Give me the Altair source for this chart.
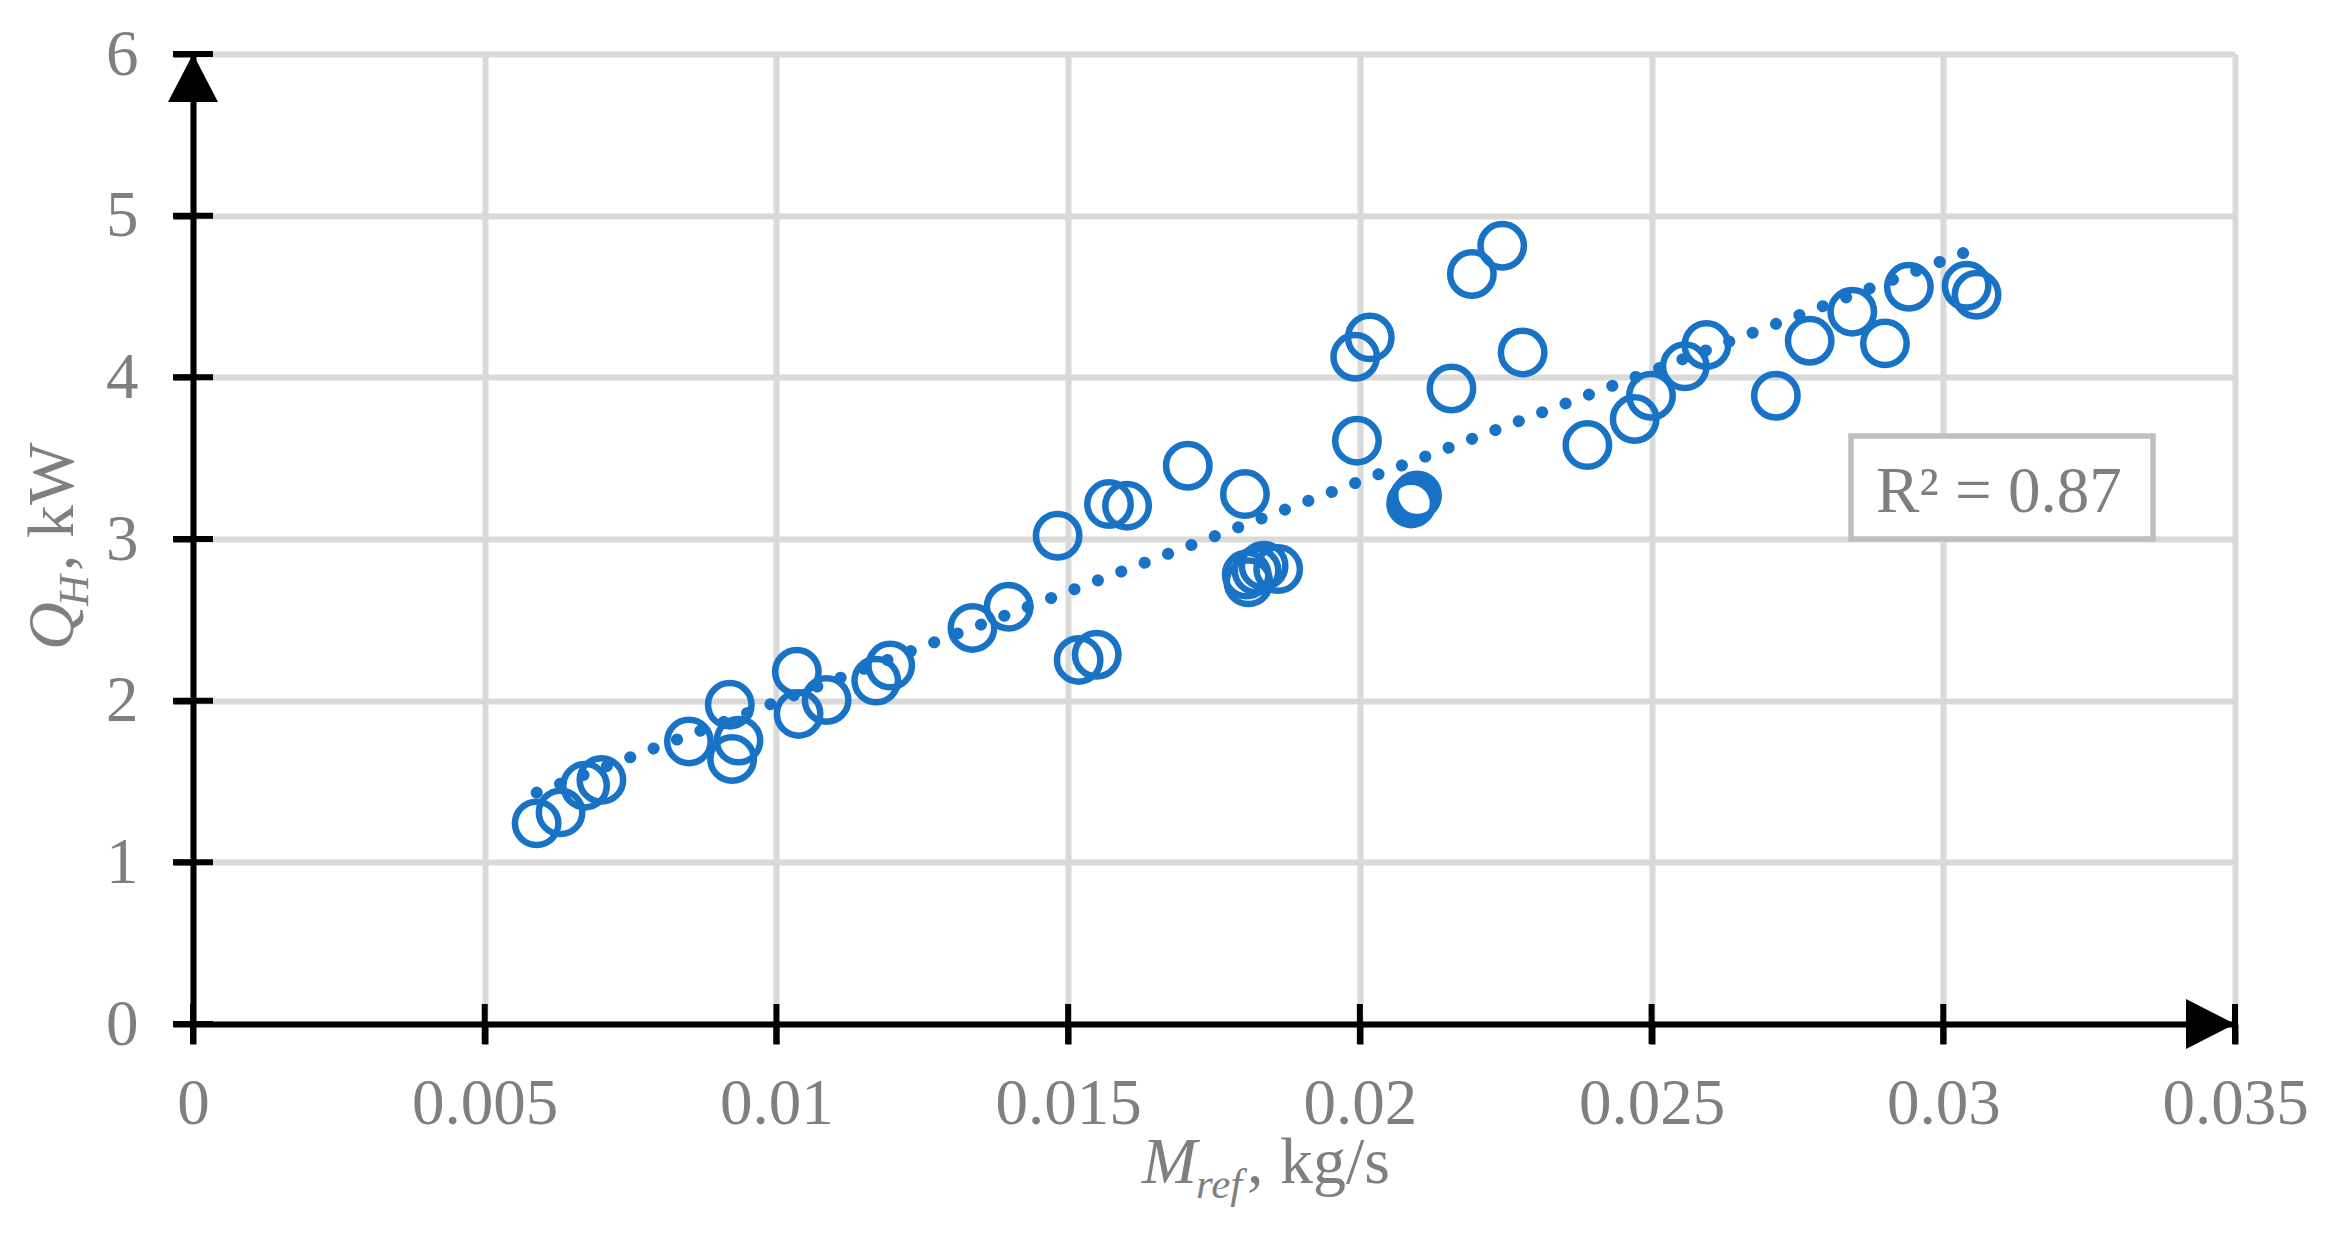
import altair as alt
import pandas as pd

# ---- data ----
m_ref = [0.00589, 0.00630, 0.00672, 0.00700, 0.00850, 0.00920, 0.00935, 0.00924,
         0.01035, 0.01038, 0.01086, 0.01171, 0.01195, 0.01336, 0.01398, 0.01482,
         0.01570, 0.01601, 0.01518, 0.01549, 0.01705, 0.01803, 0.01809, 0.01823,
         0.01835, 0.01860, 0.01806, 0.01995, 0.01992, 0.02017, 0.02192, 0.02244,
         0.02157, 0.02279, 0.02088, 0.02093, 0.02098, 0.02390, 0.02471, 0.02499,
         0.02557, 0.02594, 0.02713, 0.02771, 0.02844, 0.02900, 0.02941, 0.03040,
         0.03057]
q_h = [1.241, 1.309, 1.474, 1.510, 1.748, 1.975, 1.753, 1.639,
       2.179, 1.918, 2.004, 2.124, 2.217, 2.450, 2.581, 3.020,
       3.216, 3.206, 2.252, 2.284, 3.453, 3.278, 2.732, 2.804,
       2.835, 2.814, 2.780, 3.608, 4.127, 4.247, 4.639, 4.814,
       3.931, 4.154, 3.220, 3.250, 3.270, 3.581, 3.742, 3.886,
       4.068, 4.200, 3.886, 4.226, 4.406, 4.210, 4.560, 4.566,
       4.511]
x_ticks = [0, 0.005, 0.01, 0.015, 0.02, 0.025, 0.03, 0.035]
y_ticks = [0, 1, 2, 3, 4, 5, 6]
r2_label = "R² = 0.87"

df = pd.DataFrame({"m": m_ref, "q": q_h})
xt = pd.DataFrame({"m": x_ticks, "q": [0] * len(x_ticks)})
yt = pd.DataFrame({"m": [0] * len(y_ticks), "q": y_ticks})
arrow_up = pd.DataFrame({"m": [0], "q": [6]})
arrow_right = pd.DataFrame({"m": [0.035], "q": [0]})
one = pd.DataFrame({"k": [0]})

BLUE = "#1873C6"
GRAY = "#7f7f7f"
FONT = "Liberation Serif"
W, H = 2042, 970

xs = alt.Scale(domain=[0, 0.035], nice=False, zero=False)
ys = alt.Scale(domain=[0, 6], nice=False)
xaxis = alt.Axis(values=x_ticks, format="~g", title=None, labelFlush=False,
                 labelOverlap=False, labelBaseline="alphabetic", labelPadding=79)
yaxis = alt.Axis(values=y_ticks, title=None, labelOverlap=False, labelPadding=35)
X = alt.X("m:Q", scale=xs, axis=xaxis)
Y = alt.Y("q:Q", scale=ys, axis=yaxis)

points = alt.Chart(df).mark_point(
    shape="circle", filled=False, size=1886, strokeWidth=6.5, color=BLUE, opacity=1
).encode(x=X, y=Y)

trend = alt.Chart(df).transform_regression("m", "q").mark_line(
    color=BLUE, strokeWidth=12, strokeDash=[0.1, 24.9], strokeCap="round"
).encode(x=X, y=Y)

xcross = alt.Chart(xt).mark_point(
    shape="M0,-1L0,1", size=1600, strokeWidth=6, color="black", filled=False, opacity=1
).encode(x=X, y=Y)
ycross = alt.Chart(yt).mark_point(
    shape="M-1,0L1,0", size=1600, strokeWidth=6, color="black", filled=False, opacity=1
).encode(x=X, y=Y)

aup = alt.Chart(arrow_up).mark_point(
    shape="M0,0L-1,1.92L1,1.92Z", size=2500, filled=True, color="black", opacity=1
).encode(x=X, y=Y)
aright = alt.Chart(arrow_right).mark_point(
    shape="M0,0L-1.96,-1L-1.96,1Z", size=2500, filled=True, color="black", opacity=1
).encode(x=X, y=Y)


def txt(s, x, y, size, style="normal", angle=0):
    return alt.Chart(one).mark_text(
        text=s, font=FONT, fontSize=size, fontStyle=style, color=GRAY,
        align="left", baseline="alphabetic", angle=angle
    ).encode(x=alt.value(x), y=alt.value(y))


# axis titles composed of italic / subscript parts
ytitle = [
    txt("Q", -120, 596, 66, "italic", 270),
    txt("H", -105, 552, 43, "italic", 270),
    txt(", kW", -120, 517, 66, "normal", 270),
]
xtitle = [
    txt("M", 949, 1129, 66, "italic"),
    txt("ref", 1003, 1144, 43, "italic"),
    txt(", kg/s", 1054, 1129, 66, "normal"),
]

r2box = alt.Chart(one).mark_rect(
    fill="white", stroke="#bfbfbf", strokeWidth=5.5
).encode(x=alt.value(1658), x2=alt.value(1960), y=alt.value(382), y2=alt.value(485))
r2text = txt(r2_label, 1683, 458, 65)

chart = alt.layer(
    points, trend, xcross, ycross, aup, aright, r2box, r2text, *ytitle, *xtitle
).properties(
    width=W, height=H,
    autosize=alt.AutoSizeParams(type="none"),
    padding={"left": 185, "top": 46, "right": 85, "bottom": 205},
).configure_axis(
    domainColor="black", domainWidth=6, tickColor="black", tickWidth=6, tickSize=20,
    gridColor="#d9d9d9", gridWidth=6, grid=True,
    labelFont=FONT, labelFontSize=65, labelColor=GRAY,
).configure_view(stroke=None)

chart.save("out.html", embed_options={"renderer": "svg", "actions": False})
